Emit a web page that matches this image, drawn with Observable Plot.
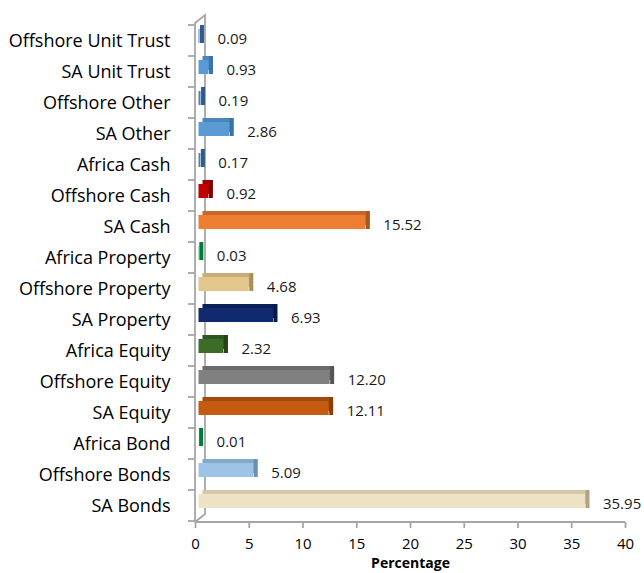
<!DOCTYPE html>
<html>
<head>
<meta charset="utf-8">
<script src="https://cdn.jsdelivr.net/npm/d3@7"></script>
<script src="https://cdn.jsdelivr.net/npm/@observablehq/plot@0.6"></script>
<style>
  html, body { margin: 0; padding: 0; background: #fff; }
  #chart svg { display: block; }
</style>
</head>
<body>
<div id="chart"></div>
<script>
// ---- data (top to bottom as shown) ----
const categories = [
  "Offshore Unit Trust", "SA Unit Trust", "Offshore Other", "SA Other",
  "Africa Cash", "Offshore Cash", "SA Cash", "Africa Property",
  "Offshore Property", "SA Property", "Africa Equity", "Offshore Equity",
  "SA Equity", "Africa Bond", "Offshore Bonds", "SA Bonds"
];
const values = [0.09, 0.93, 0.19, 2.86, 0.17, 0.92, 15.52, 0.03, 4.68, 6.93, 2.32, 12.20, 12.11, 0.01, 5.09, 35.95];
const xTicks = [0, 5, 10, 15, 20, 25, 30, 35, 40];
const xLabel = "Percentage";

// ---- styling ----
const frontPalette = ["#4f81bd", "#5b9bd5", "#4f81bd", "#5b9bd5", "#4f81bd", "#c00000", "#ed7d31", "#00b050",
                      "#e3c68c", "#0f2a6e", "#3d6b28", "#808080", "#c55a11", "#00b050", "#9dc3e6", "#eee2c4"];
const topPalette   = ["#3f6c9e", "#4a86bc", "#3f6c9e", "#4a86bc", "#3f6c9e", "#9a0000", "#c8672a", "#009040",
                      "#c8ad78", "#0b2058", "#2f5520", "#6a6a6a", "#a44a0e", "#009040", "#86a9c8", "#d6c8a6"];
const sidePalette  = ["#2f5b8c", "#3b74a8", "#2f5b8c", "#3b74a8", "#2f5b8c", "#800000", "#a65621", "#007a3a",
                      "#a88f5c", "#081a48", "#26431a", "#555555", "#8a3d0b", "#007a3a", "#6c8fb0", "#b0a384"];

const rows = categories.map((c, i) => ({category: c, value: values[i], i}));

const W = 644, H = 573;
const mTop = 23, mBottom = 51, mLeft = 195, mRight = 19;
const font = "'Open Sans', 'Noto Sans', sans-serif";

// wall + axis line drawn with the plot's scales
function wall(index, scales, vals, dims) {
  const x0 = scales.x(0), x1 = scales.x(40);
  const top = dims.marginTop, bottom = dims.height - dims.marginBottom;
  const g = d3.create("svg:g").attr("fill", "none").attr("stroke", "#a6a6a6").attr("stroke-width", 1.8);
  g.append("path").attr("d", `M${x0},${bottom}V${top}L${x0 + 10},${top - 8}V${bottom - 8}L${x0},${bottom}`);
  g.append("path").attr("d", `M${x0},${bottom}H${x1}`);
  const step = scales.y.step();
  const y0 = scales.y(categories[0]);
  for (let k = 0; k <= categories.length; k++) {
    const yy = y0 + k * step;
    g.append("path").attr("d", `M${x0 - 7},${yy}H${x0}`);
  }
  return g.node();
}

const bandInset = 8.5;
const chart = Plot.plot({
  width: W,
  height: H,
  marginTop: mTop,
  marginBottom: mBottom,
  marginLeft: mLeft,
  marginRight: mRight,
  style: {fontFamily: font, background: "#fff"},
  x: {domain: [0, 40], ticks: xTicks},
  y: {domain: categories, padding: 0, align: 0.5},
  marks: [
    wall,
    // top depth face
    Plot.barX(rows, {x1: 0, x2: "value", y: "category", fill: (d) => topPalette[d.i],
      insetTop: bandInset, insetBottom: bandInset, dx: 7.5, dy: -8.5}),
    // end (side) face
    Plot.tickX(rows, {x: "value", y: "category", stroke: (d) => sidePalette[d.i], strokeWidth: 4,
      insetTop: bandInset - 4, insetBottom: bandInset, dx: 5.5, dy: -4.5}),
    // front face
    Plot.barX(rows, {x1: 0, x2: "value", y: "category", fill: (d) => frontPalette[d.i],
      insetTop: bandInset, insetBottom: bandInset, dx: 3.5, dy: -4.5}),
    Plot.text(rows, {x: "value", y: "category", text: (d) => d.value.toFixed(2), dx: 21, dy: -2,
      textAnchor: "start", fontSize: 15, fill: "#1a1a1a"}),
    Plot.axisY({tickSize: 0, tickPadding: 25, fontSize: 18, fill: "#000", label: null}),
    Plot.axisX({ticks: xTicks, tickSize: 6, stroke: "#a6a6a6", strokeWidth: 1.8, tickPadding: 10, fontSize: 15, fill: "#000", label: null}),
    Plot.text([xLabel], {frameAnchor: "bottom", dy: 45, text: (d) => d, fontWeight: "bold", fontSize: 14, fill: "#000"})
  ]
});
document.getElementById("chart").appendChild(chart);
</script>
</body>
</html>
